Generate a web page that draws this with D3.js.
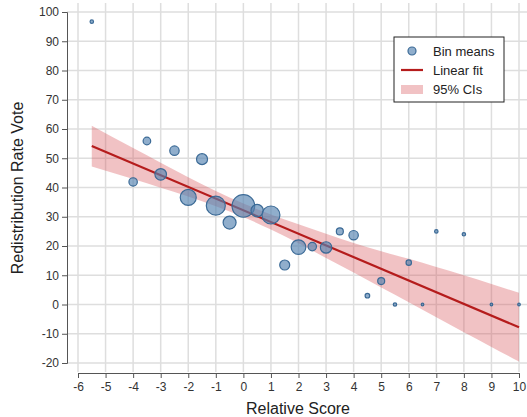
<!DOCTYPE html>
<html lang="en">
<head>
    <meta charset="UTF-8">
    <title>Bin means scatter</title>
    <script src="https://d3js.org/d3.v7.min.js"></script>
    <style>
        body { margin: 0; background: #fff; }
        text { font-family: "Liberation Sans", Arial, sans-serif; }
    </style>
</head>
<body>
<script>
    // bin means: relative score, vote, size of bin
    var binX = [-5.5, -4, -3.5, -3, -2.5, -2, -1.5, -1, -0.5, 0, 0.5, 1, 1.5, 2, 2.5, 3, 3.5, 4, 4.5, 5, 5.5, 6, 6.5, 7, 8, 9, 10];
    var binY = [96.7, 41.9, 55.9, 44.5, 52.6, 36.6, 49.7, 33.8, 28.0, 33.7, 32.1, 30.6, 13.5, 19.6, 19.8, 19.5, 25.0, 23.7, 3.0, 8.0, 0, 14.3, 0, 25.0, 24.0, 0, 0];
    var binN = [2.3, 13.8, 11.3, 26.3, 17.3, 50, 23.7, 70.7, 33, 100, 30, 63.4, 19.6, 41.7, 13.8, 25.4, 9.6, 17.3, 4.1, 9.6, 2.3, 5.7, 1.3, 2.3, 2.3, 1.3, 1.3];

    // linear fit and 95% band
    var fitX = [-5.5, 10];
    var fitY = [54.2, -7.8];
    var ciX = [-5.5, -4, -3, -2, -1, 0, 1, 2, 3, 4, 5, 6, 7, 8, 9, 10];
    var ciLow = [47.2, 42.9, 39.9, 36.9, 33.6, 29.9, 25.6, 20.9, 15.9, 10.9, 5.8, 0.8, -4.4, -9.5, -14.5, -19.5];
    var ciHigh = [61.1, 53.5, 48.5, 43.5, 38.8, 34.5, 30.8, 27.4, 24.2, 21.0, 18.2, 15.6, 12.8, 10.0, 7.0, 4.0];

    var xTicks = d3.range(-6, 11, 1);
    var yTicks = d3.range(-20, 101, 10);

    var width = 527, height = 417;

    var svg = d3.select("body").append("svg")
        .attr("width", width)
        .attr("height", height);

    var x = d3.scaleLinear().domain([-6, 10]).range([78, 519]);
    var y = d3.scaleLinear().domain([-20, 100]).range([363, 12]);
    var r = d3.scaleSqrt().domain([0, 100]).range([0, 11.3]);

    // grid
    svg.append("g").selectAll("line.gx")
        .data(xTicks).enter().append("line")
        .attr("x1", d => x(d)).attr("x2", d => x(d))
        .attr("y1", 3).attr("y2", 372)
        .style("stroke", "#dedede").style("stroke-width", 1.5);
    svg.append("g").selectAll("line.gy")
        .data(yTicks).enter().append("line")
        .attr("x1", 67).attr("x2", 527)
        .attr("y1", d => y(d)).attr("y2", d => y(d))
        .style("stroke", "#dedede").style("stroke-width", 1.5);

    // axes
    var yAxis = svg.append("g")
        .attr("transform", "translate(67,0)")
        .call(d3.axisLeft(y).tickValues(yTicks).tickSize(5).tickPadding(3));
    var xAxis = svg.append("g")
        .attr("transform", "translate(0,373)")
        .call(d3.axisBottom(x).tickValues(xTicks).tickSize(5).tickPadding(4).tickFormat(d3.format("d")));
    [xAxis, yAxis].forEach(function(a) {
        a.select(".domain").style("stroke", "#555");
        a.selectAll(".tick line").style("stroke", "#555");
        a.selectAll(".tick text").style("font-size", "12px").style("fill", "#333")
            .style("font-family", "Liberation Sans, Arial, sans-serif");
    });
    // plain hyphen minus like the original
    xAxis.selectAll(".tick text").text(d => String(d));
    yAxis.selectAll(".tick text").text(d => String(d));

    // CI band
    var band = ciX.map((d, i) => ({x: d, lo: ciLow[i], hi: ciHigh[i]}));
    svg.append("path")
        .datum(band)
        .attr("d", d3.area().x(d => x(d.x)).y0(d => y(d.lo)).y1(d => y(d.hi)).curve(d3.curveMonotoneX))
        .style("fill", "rgb(214,80,86)")
        .style("fill-opacity", 0.35);

    // fit line
    svg.append("line")
        .attr("x1", x(fitX[0])).attr("y1", y(fitY[0]))
        .attr("x2", x(fitX[1])).attr("y2", y(fitY[1]))
        .style("stroke", "#b51c1c").style("stroke-width", 2.2);

    // bin means
    var bins = binX.map((d, i) => ({x: d, y: binY[i], n: binN[i]}));
    svg.append("g").selectAll("circle")
        .data(bins).enter().append("circle")
        .attr("cx", d => x(d.x))
        .attr("cy", d => y(d.y))
        .attr("r", d => r(d.n))
        .style("fill", "#5482b0").style("fill-opacity", 0.65)
        .style("stroke", "#3b6a96").style("stroke-width", 1.2);

    // axis titles
    svg.append("text")
        .attr("x", 298).attr("y", 414)
        .attr("text-anchor", "middle")
        .style("font-size", "16px").style("fill", "#222")
        .text("Relative Score");
    svg.append("text")
        .attr("transform", "translate(23,188) rotate(-90)")
        .attr("text-anchor", "middle")
        .style("font-size", "16px").style("fill", "#222")
        .text("Redistribution Rate Vote");

    // legend
    var lg = svg.append("g").attr("transform", "translate(394,37)");
    lg.append("rect").attr("width", 110).attr("height", 65)
        .style("fill", "#fff").style("stroke", "#222").style("stroke-width", 1);
    lg.append("circle").attr("cx", 18).attr("cy", 14).attr("r", 4)
        .style("fill", "#5482b0").style("fill-opacity", 0.65)
        .style("stroke", "#3b6a96").style("stroke-width", 1.2);
    lg.append("line").attr("x1", 7).attr("x2", 29).attr("y1", 33).attr("y2", 33)
        .style("stroke", "#b51c1c").style("stroke-width", 2.2);
    lg.append("rect").attr("x", 7).attr("y", 48).attr("width", 22).attr("height", 9)
        .style("fill", "rgb(214,80,86)").style("fill-opacity", 0.35);
    var labels = ["Bin means", "Linear fit", "95% CIs"];
    lg.selectAll("text.lab").data(labels).enter().append("text")
        .attr("x", 39).attr("y", (d, i) => 14 + i * 19)
        .attr("dy", "0.35em")
        .style("font-size", "13px").style("fill", "#222")
        .text(d => d);
</script>
</body>
</html>
